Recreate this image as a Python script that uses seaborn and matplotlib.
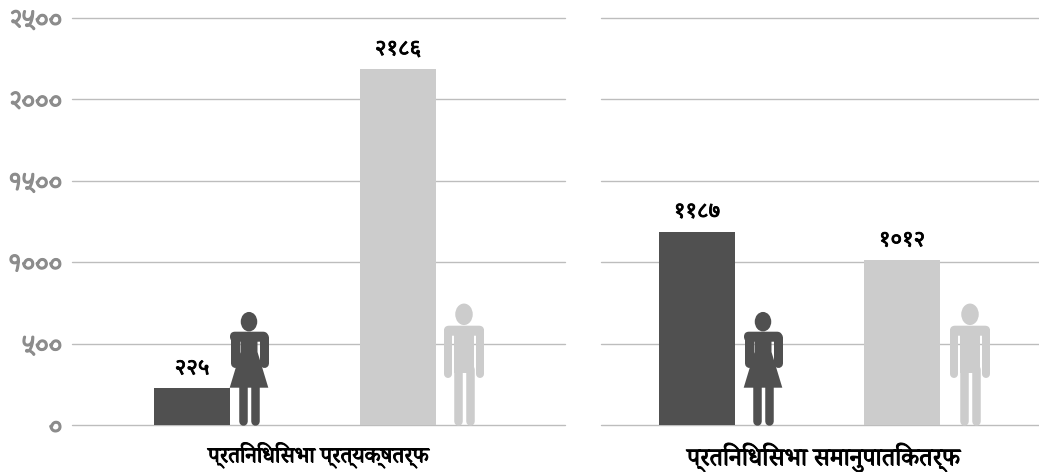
import matplotlib
matplotlib.use("Agg")
import matplotlib.pyplot as plt
from matplotlib.patches import Ellipse, FancyBboxPatch, Polygon, Rectangle
import matplotlib.patheffects as pe
import pandas as pd
import seaborn as sns

genders = ["महिला", "पुरुष"]
direct_values = [225, 2186]
direct_labels = ["२२५", "२१८६"]
proportional_values = [1187, 1012]
proportional_labels = ["११८७", "१०१२"]
y_ticks = [0, 500, 1000, 1500, 2000, 2500]
y_tick_labels = ["०", "५००", "१०००", "१५००", "२०००", "२५००"]
direct_title = "प्रतिनिधिसभा प्रत्यक्षतर्फ"
proportional_title = "प्रतिनिधिसभा समानुपातिकतर्फ"

DARK = "#505050"
LIGHT = "#cccccc"
W, H = 1039, 472

sns.set_theme(style="white")
palette = {genders[0]: DARK, genders[1]: LIGHT}

fig = plt.figure(figsize=(W / 100, H / 100), dpi=100)


def thick(width, color):
    # these fonts only come in regular weight here, so fatten them
    return [pe.withStroke(linewidth=width, foreground=color)]


def panel(left, right, values, labels, title, title_size, xlim, width, title_x):
    ax = fig.add_axes([left / W, (H - 425) / H, (right - left) / W, 407 / H])
    df = pd.DataFrame({"gender": genders, "seats": values})
    sns.barplot(data=df, x="gender", y="seats", hue="gender", palette=palette, order=genders,
                hue_order=genders, width=width, saturation=1, legend=False, linewidth=0,
                edgecolor="none", ax=ax)
    ax.set_xlim(*xlim)
    ax.set_ylim(0, 2500)
    ax.set_yticks(y_ticks)
    ax.set_xticks([])
    ax.set_ylabel("")
    ax.set_xlabel(title, fontsize=title_size, family="Noto Serif Devanagari", color="black",
                  labelpad=12.5, x=title_x, path_effects=thick(0.7, "black"))
    ax.grid(axis="y", color="#bdbdbd", lw=1.0, clip_on=False)
    ax.set_axisbelow(True)
    sns.despine(ax=ax, left=True, bottom=True, top=True, right=True)
    ax.tick_params(axis="y", length=0, pad=7)
    for c, lab in zip(ax.containers, labels):
        ax.bar_label(c, labels=[lab], padding=6.5, fontsize=16, family="Noto Sans Devanagari",
                     color="black", path_effects=thick(0.6, "black"))
    return ax


ax1 = panel(72, 565, direct_values, direct_labels, direct_title, 16, (-0.583, 1.811), 0.369, 0.5)
ax1.set_yticklabels(y_tick_labels, fontsize=15.5, color="#8c8c8c", family="Playpen Sans Deva",
                    path_effects=thick(0.9, "#8c8c8c"))
ax2 = panel(601, 1039, proportional_values, proportional_labels, proportional_title, 18,
            (-0.468, 1.668), 0.371, 0.508)
ax2.set_yticklabels([])

# person icons, drawn in pixel space on top of the charts
over = fig.add_axes([0, 0, 1, 1], facecolor="none")
over.set_xlim(0, W)
over.set_ylim(H, 0)
over.axis("off")


def limb(x, y0, y1, w, color):
    over.plot([x, x], [y0 + w / 2, y1 - w / 2], color=color, lw=w * 0.72, solid_capstyle="round")


def shoulders(x0, x1, y, color):
    over.add_patch(FancyBboxPatch((x0 + 5, y + 5), x1 - x0 - 10, 0.01, boxstyle="round,pad=5",
                                  fc=color, ec="none"))


def woman(x):
    over.add_patch(Ellipse((x, 321.7), 16.5, 19.5, fc=DARK, ec="none"))
    shoulders(x - 19, x + 19, 331.7, DARK)
    limb(x - 14.5, 332.2, 367, 9, DARK)
    limb(x + 14.5, 332.2, 367, 9, DARK)
    over.add_patch(Polygon([(x - 8.5, 340), (x + 8.5, 340), (x + 8.5, 352), (x + 19.3, 387.7),
                            (x - 19.3, 387.7), (x - 8.5, 352)], fc=DARK, ec="none"))
    limb(x - 6, 380, 425.5, 8.5, DARK)
    limb(x + 6, 380, 425.5, 8.5, DARK)


def man(x):
    over.add_patch(Ellipse((x, 314.3), 17.5, 21.5, fc=LIGHT, ec="none"))
    shoulders(x - 20, x + 20, 325.7, LIGHT)
    limb(x - 16, 326.7, 378, 8, LIGHT)
    limb(x + 16, 326.7, 378, 8, LIGHT)
    over.add_patch(Rectangle((x - 10, 335), 20, 38, fc=LIGHT, ec="none"))
    limb(x - 6, 365, 425.5, 8.5, LIGHT)
    limb(x + 6, 365, 425.5, 8.5, LIGHT)


woman(249)
man(464)
woman(763)
man(970)

fig.savefig("out.png", dpi=100)
